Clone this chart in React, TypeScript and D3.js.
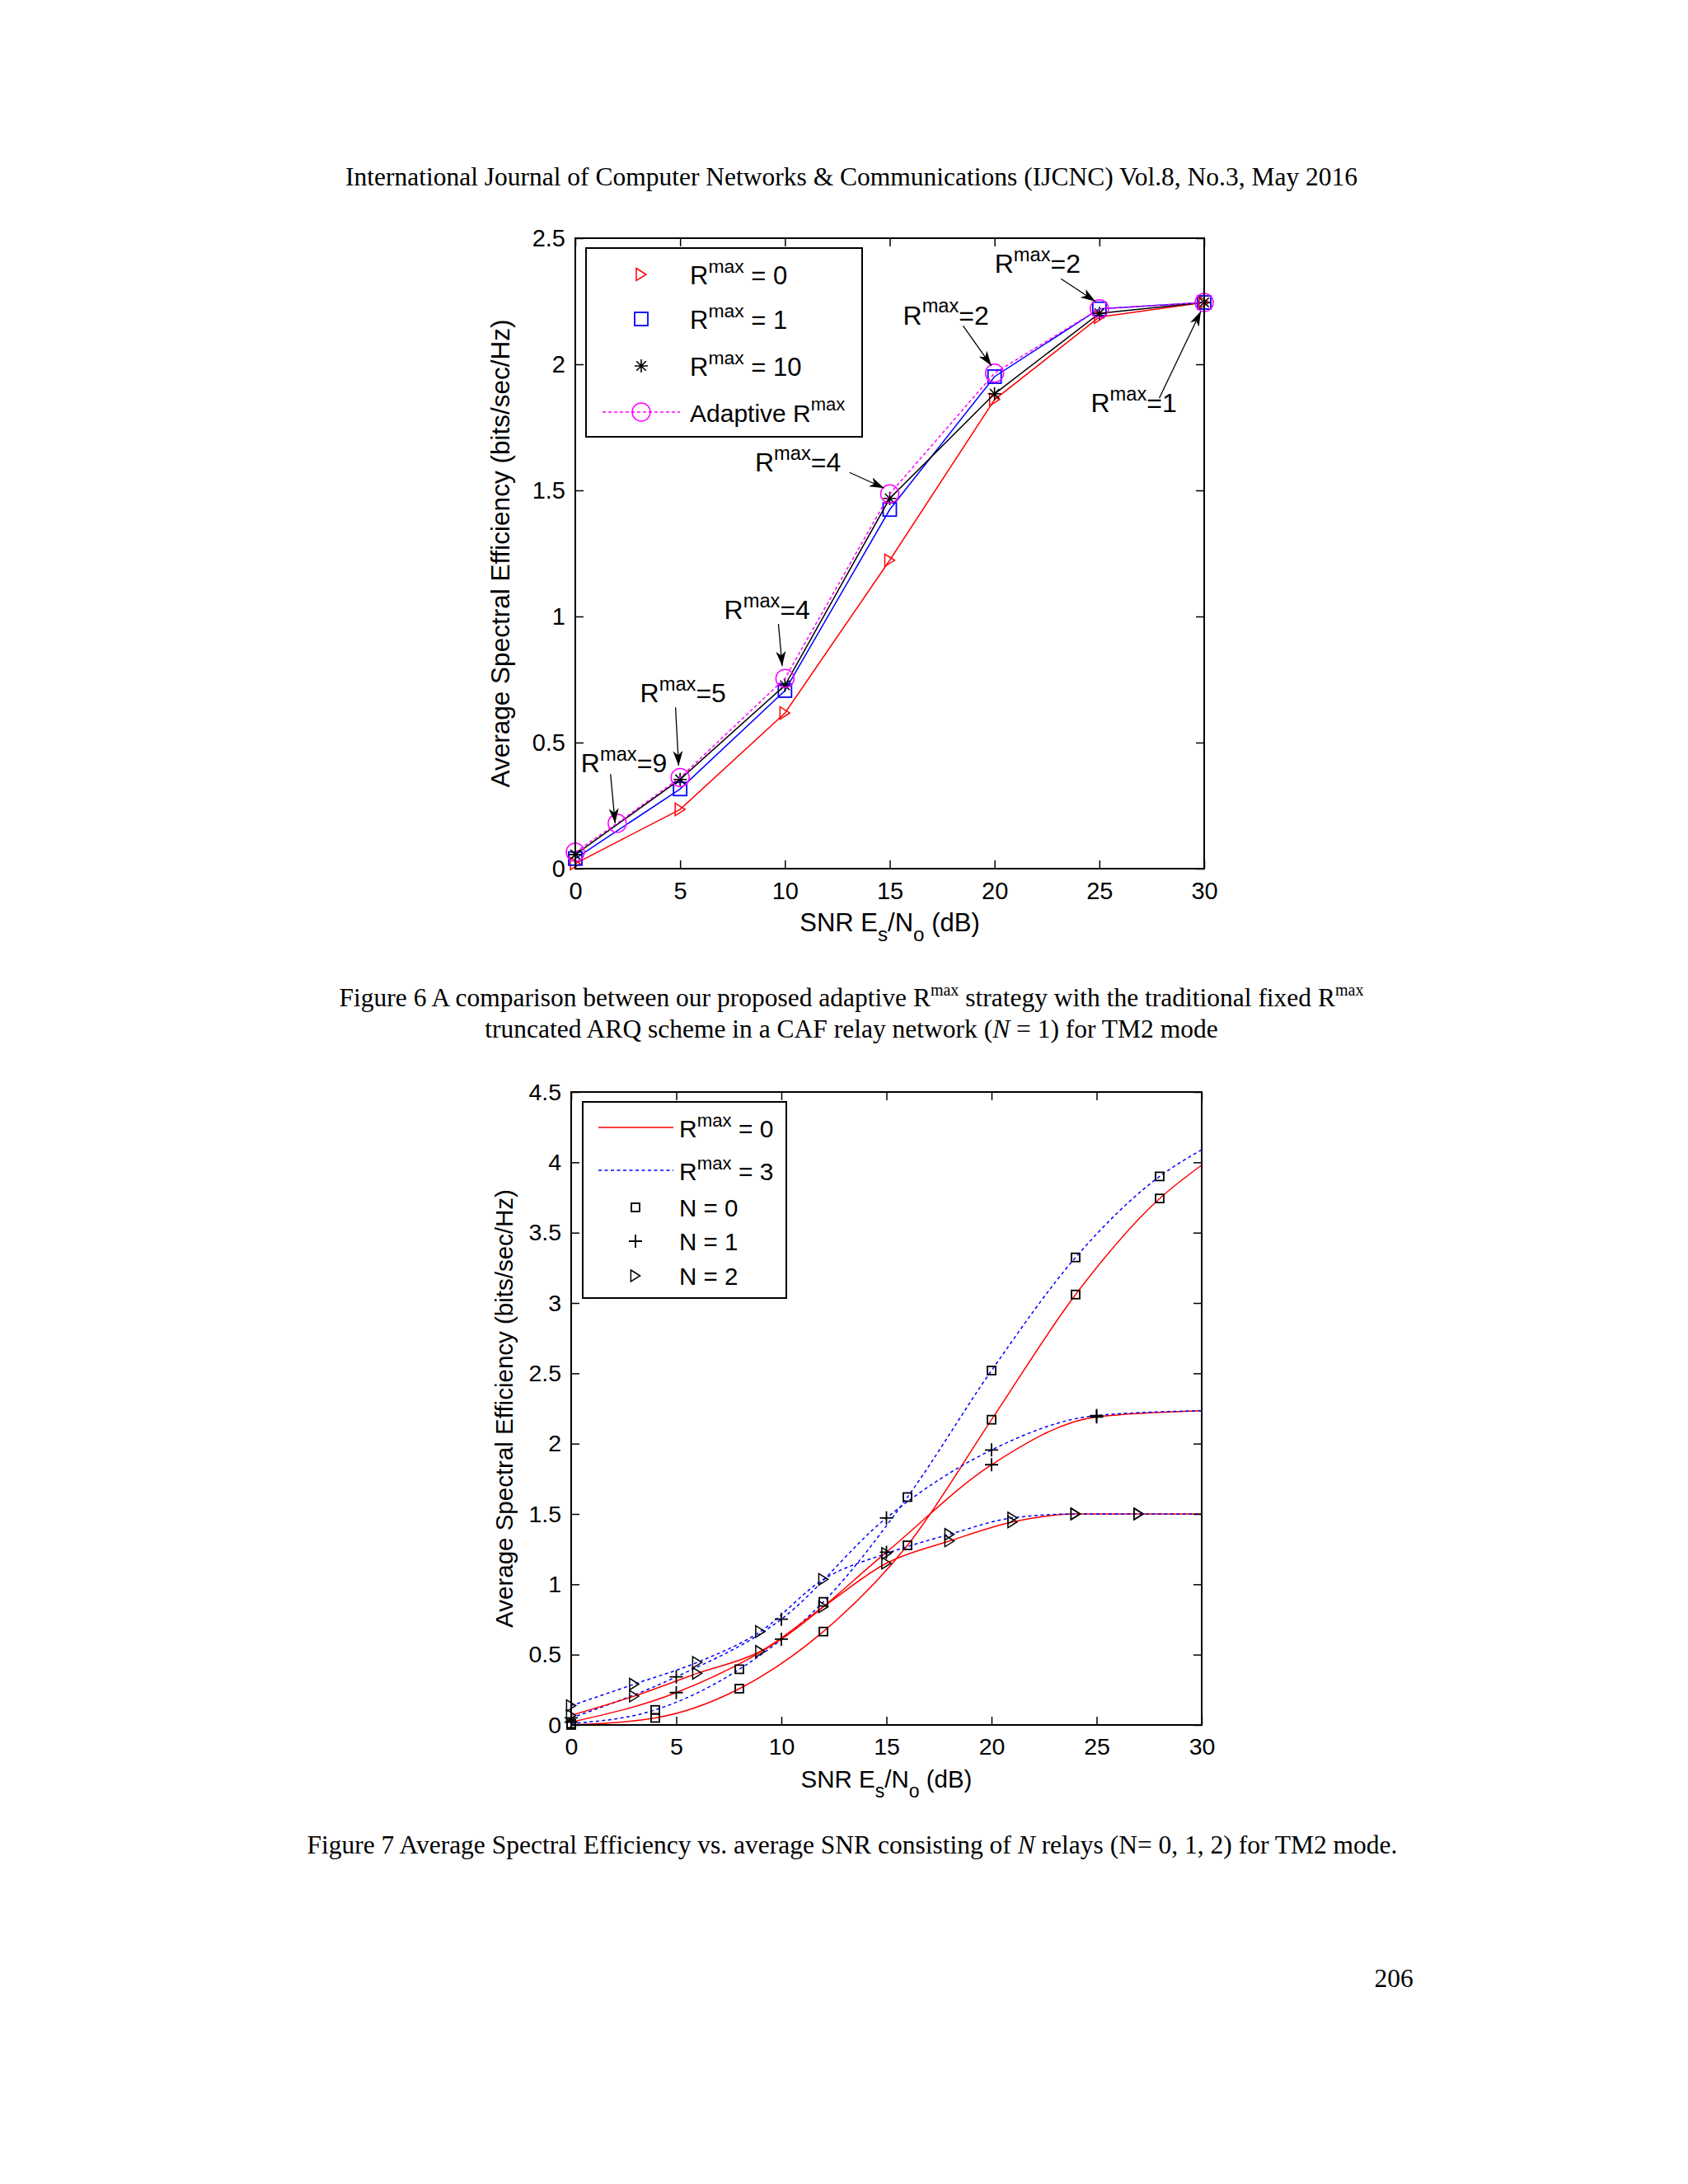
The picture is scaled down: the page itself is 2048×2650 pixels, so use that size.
import React, { useEffect, useRef } from 'react';
import * as d3 from 'd3';

// ---- Figure 6: fixed vs adaptive Rmax (N = 1) ----
const fig6Snr = [0, 5, 10, 15, 20, 25, 30];
const fig6Rmax0 = [0.02, 0.235, 0.617, 1.223, 1.86, 2.187, 2.245];
const fig6Rmax1 = [0.04, 0.316, 0.706, 1.424, 1.951, 2.22, 2.245];
const fig6Rmax10 = [0.056, 0.354, 0.727, 1.468, 1.883, 2.202, 2.245];
const fig6AdaptiveSnr = [0, 2, 5, 10, 15, 20, 25, 30];
const fig6Adaptive = [0.065, 0.18, 0.361, 0.754, 1.486, 1.965, 2.22, 2.245];
const fig6XTicks = [0, 5, 10, 15, 20, 25, 30];
const fig6YTicks = [0, 0.5, 1, 1.5, 2, 2.5];

// "Rmax=n" notes: text anchor and arrow start/end, in data units
const noteValues = ['9', '5', '4', '4', '2', '2', '1'];
const noteTextX = [0.27, 3.09, 7.1, 8.57, 15.63, 20.0, 24.59];
const noteTextY = [0.381, 0.66, 0.99, 1.574, 2.158, 2.362, 1.81];
const noteFromX = [1.68, 4.78, 9.69, 13.08, 18.5, 23.17, 27.86];
const noteFromY = [0.375, 0.64, 0.97, 1.571, 2.152, 2.339, 1.866];
const noteToX = [1.9, 4.93, 9.87, 14.73, 19.85, 24.81, 29.84];
const noteToY = [0.18, 0.408, 0.803, 1.509, 1.994, 2.249, 2.21];

// ---- Figure 7: N relays, Rmax = 0 (solid) vs Rmax = 3 (dotted) ----
const snrN0 = [0, 4, 8, 12, 16, 20, 24, 28, 30];
const n0Rmax0 = [0, 0.05, 0.258, 0.664, 1.277, 2.17, 3.06, 3.743, 3.98];
const n0Rmax3 = [0.01, 0.107, 0.396, 0.875, 1.62, 2.52, 3.324, 3.9, 4.09];
const snrN1 = [0, 5, 10, 15, 20, 25, 30];
const n1Rmax0 = [0.02, 0.23, 0.61, 1.228, 1.85, 2.19, 2.234];
const n1Rmax3 = [0.05, 0.342, 0.752, 1.472, 1.955, 2.2, 2.234];
const snrN2 = [0, 3, 6, 9, 12, 15, 18, 21, 24, 27, 30];
const n2Rmax0 = [0.068, 0.205, 0.367, 0.523, 0.84, 1.15, 1.308, 1.443, 1.5, 1.5, 1.5];
const n2Rmax3 = [0.137, 0.29, 0.445, 0.664, 1.035, 1.219, 1.355, 1.472, 1.5, 1.5, 1.5];
const fig7XTicks = [0, 5, 10, 15, 20, 25, 30];
const fig7YTicks = [0, 0.5, 1, 1.5, 2, 2.5, 3, 3.5, 4, 4.5];

const W = 2048;
const H = 2650;
const SANS = '"Liberation Sans", Arial, sans-serif';
const SERIF = '"Liberation Serif", "Times New Roman", serif';

// marker shapes
const triPath = (cx, cy, w, h) =>
  `M${cx - w / 2},${cy - h / 2}L${cx + w / 2},${cy}L${cx - w / 2},${cy + h / 2}Z`;
const starPath = (cx, cy, r) => {
  const d = r * 0.72;
  return `M${cx - r},${cy}L${cx + r},${cy}M${cx},${cy - r}L${cx},${cy + r}` +
    `M${cx - d},${cy - d}L${cx + d},${cy + d}M${cx - d},${cy + d}L${cx + d},${cy - d}`;
};
const plusPath = (cx, cy, r) => `M${cx - r},${cy}L${cx + r},${cy}M${cx},${cy - r}L${cx},${cy + r}`;

function drawMarker(g, kind, cx, cy, color, size) {
  if (kind === 'tri') {
    g.append('path').attr('d', triPath(cx, cy, size * 0.8, size)).attr('fill', 'none').attr('stroke', color).attr('stroke-width', 1.5);
  } else if (kind === 'square') {
    g.append('rect').attr('x', cx - size / 2).attr('y', cy - size / 2).attr('width', size).attr('height', size)
      .attr('fill', 'none').attr('stroke', color).attr('stroke-width', 1.8);
  } else if (kind === 'star') {
    g.append('path').attr('d', starPath(cx, cy, size / 2)).attr('stroke', color).attr('stroke-width', 1.6).attr('fill', 'none');
  } else if (kind === 'plus') {
    g.append('path').attr('d', plusPath(cx, cy, size / 2)).attr('stroke', color).attr('stroke-width', 1.8).attr('fill', 'none');
  } else if (kind === 'circle') {
    g.append('circle').attr('cx', cx).attr('cy', cy).attr('r', size / 2).attr('fill', 'none').attr('stroke', color).attr('stroke-width', 1.5);
  }
}

// "R^max" + suffix
function rmaxText(g, x, y, suffix, fs) {
  const t = g.append('text').attr('x', x).attr('y', y).attr('font-size', fs)
    .attr('font-family', SANS).attr('fill', '#000');
  t.append('tspan').text('R');
  t.append('tspan').attr('font-size', fs * 0.74).attr('dy', -fs * 0.45).text('max');
  t.append('tspan').attr('dy', fs * 0.45).text(suffix);
  return t;
}

function frame(g, x, y, xTicks, yTicks, fs) {
  const [x0, x1] = x.range();
  const [y0, y1] = y.range();
  g.append('g').attr('transform', `translate(0,${y0})`)
    .call(d3.axisBottom(x).tickValues(xTicks).tickSize(-10).tickPadding(16).tickFormat((d) => String(d)));
  g.append('g').attr('transform', `translate(0,${y1})`)
    .call(d3.axisTop(x).tickValues(xTicks).tickSize(-10).tickFormat(() => ''));
  g.append('g').attr('transform', `translate(${x0},0)`)
    .call(d3.axisLeft(y).tickValues(yTicks).tickSize(-10).tickPadding(12).tickFormat((d) => String(d)));
  g.append('g').attr('transform', `translate(${x1},0)`)
    .call(d3.axisRight(y).tickValues(yTicks).tickSize(-10).tickFormat(() => ''));
  g.selectAll('.domain').remove();
  g.selectAll('.tick line').attr('stroke', '#000').attr('stroke-width', 1.5);
  g.selectAll('.tick text').attr('font-size', fs).attr('font-family', SANS).attr('fill', '#000');
  g.append('rect').attr('x', x0).attr('y', y1).attr('width', x1 - x0).attr('height', y0 - y1)
    .attr('fill', 'none').attr('stroke', '#000').attr('stroke-width', 2);
}

function axisLabels(g, x, y, fs, yfs, yOffset) {
  const [x0, x1] = x.range();
  const [y0, y1] = y.range();
  const sub = fs * 0.78;
  const xl = g.append('text').attr('x', (x0 + x1) / 2).attr('y', y0 + 76).attr('text-anchor', 'middle')
    .attr('font-size', fs).attr('font-family', SANS).attr('fill', '#000');
  xl.append('tspan').text('SNR E');
  xl.append('tspan').attr('font-size', sub).attr('dy', 12).text('s');
  xl.append('tspan').attr('dy', -12).text('/N');
  xl.append('tspan').attr('font-size', sub).attr('dy', 12).text('o');
  xl.append('tspan').attr('dy', -12).text(' (dB)');
  g.append('text').attr('transform', `translate(${x0 - yOffset},${(y0 + y1) / 2}) rotate(-90)`)
    .attr('text-anchor', 'middle').attr('font-size', yfs).attr('font-family', SANS).attr('fill', '#000')
    .text('Average Spectral Efficiency (bits/sec/Hz)');
}

function drawFig6(g) {
  const x = d3.scaleLinear().domain([0, 30]).range([698, 1461]);
  const y = d3.scaleLinear().domain([0, 2.5]).range([1054, 289]);

  const series = [
    { xs: fig6Snr, ys: fig6Rmax0, color: '#ff0000', marker: 'tri', size: 15, dash: null },
    { xs: fig6Snr, ys: fig6Rmax1, color: '#0000ff', marker: 'square', size: 16, dash: null },
    { xs: fig6Snr, ys: fig6Rmax10, color: '#000000', marker: 'star', size: 16, dash: null },
    { xs: fig6AdaptiveSnr, ys: fig6Adaptive, color: '#ff00ff', marker: 'circle', size: 22, dash: '4,3' },
  ];
  const line = d3.line().x((d) => x(d[0])).y((d) => y(d[1]));

  series.forEach((s) => {
    const pts = s.xs.map((v, i) => [v, s.ys[i]]);
    g.append('path').attr('d', line(pts)).attr('fill', 'none').attr('stroke', s.color)
      .attr('stroke-width', 1.5).attr('stroke-dasharray', s.dash);
    pts.forEach((p) => drawMarker(g, s.marker, x(p[0]), y(p[1]), s.color, s.size));
  });

  frame(g, x, y, fig6XTicks, fig6YTicks, 29);
  axisLabels(g, x, y, 31, 31.5, 80);

  // arrows + notes
  const defs = g.append('defs');
  defs.append('marker').attr('id', 'arrowhead').attr('viewBox', '0 0 18 12').attr('refX', 18).attr('refY', 6)
    .attr('markerWidth', 18).attr('markerHeight', 12).attr('markerUnits', 'userSpaceOnUse').attr('orient', 'auto')
    .append('path').attr('d', 'M0,0L18,6L0,12L5,6Z').attr('fill', '#000');
  noteValues.forEach((v, i) => {
    g.append('line').attr('x1', x(noteFromX[i])).attr('y1', y(noteFromY[i]))
      .attr('x2', x(noteToX[i])).attr('y2', y(noteToY[i]))
      .attr('stroke', '#000').attr('stroke-width', 1.3).attr('marker-end', 'url(#arrowhead)');
    rmaxText(g, x(noteTextX[i]), y(noteTextY[i]), '=' + v, 32);
  });

  // legend
  const lx = 711;
  const ly = 301;
  const lg = g.append('g');
  lg.append('rect').attr('x', lx).attr('y', ly).attr('width', 335).attr('height', 229)
    .attr('fill', '#fff').attr('stroke', '#000').attr('stroke-width', 2);
  const rows = [32, 86, 143, 199];
  const labels = [' = 0', ' = 1', ' = 10'];
  series.forEach((s, i) => {
    const cy = ly + rows[i];
    if (s.dash) {
      lg.append('line').attr('x1', lx + 20).attr('x2', lx + 114).attr('y1', cy).attr('y2', cy)
        .attr('stroke', s.color).attr('stroke-width', 1.5).attr('stroke-dasharray', s.dash);
    }
    drawMarker(lg, s.marker, lx + 67, cy, s.color, s.size);
    if (i < 3) {
      rmaxText(lg, lx + 126, cy + 12, labels[i], 31);
    } else {
      const t = lg.append('text').attr('x', lx + 126).attr('y', cy + 12).attr('font-size', 30)
        .attr('font-family', SANS).attr('fill', '#000');
      t.append('tspan').text('Adaptive R');
      t.append('tspan').attr('font-size', 22).attr('dy', -14).text('max');
    }
  });
}

function drawFig7(g) {
  const x = d3.scaleLinear().domain([0, 30]).range([693, 1458]);
  const y = d3.scaleLinear().domain([0, 4.5]).range([2093, 1325]);
  const line = d3.line().x((d) => x(d[0])).y((d) => y(d[1])).curve(d3.curveMonotoneX);

  const series = [
    { xs: snrN0, ys: n0Rmax0, color: '#ff0000', dash: null, marker: 'square', size: 10 },
    { xs: snrN0, ys: n0Rmax3, color: '#0000ff', dash: '4,3.5', marker: 'square', size: 10 },
    { xs: snrN1, ys: n1Rmax0, color: '#ff0000', dash: null, marker: 'plus', size: 16 },
    { xs: snrN1, ys: n1Rmax3, color: '#0000ff', dash: '4,3.5', marker: 'plus', size: 16 },
    { xs: snrN2, ys: n2Rmax0, color: '#ff0000', dash: null, marker: 'tri', size: 14 },
    { xs: snrN2, ys: n2Rmax3, color: '#0000ff', dash: '4,3.5', marker: 'tri', size: 14 },
  ];

  series.forEach((s) => {
    const pts = s.xs.map((v, i) => [v, s.ys[i]]);
    g.append('path').attr('d', line(pts)).attr('fill', 'none').attr('stroke', s.color)
      .attr('stroke-width', 1.5).attr('stroke-dasharray', s.dash);
  });
  series.forEach((s) => {
    s.xs.forEach((v, i) => {
      if (v < 30) drawMarker(g, s.marker, x(v), y(s.ys[i]), '#000', s.size);
    });
  });

  frame(g, x, y, fig7XTicks, fig7YTicks, 28.5);
  axisLabels(g, x, y, 29.5, 29.5, 71);

  // legend
  const lx = 707;
  const ly = 1337;
  const lg = g.append('g');
  lg.append('rect').attr('x', lx).attr('y', ly).attr('width', 247).attr('height', 238)
    .attr('fill', '#fff').attr('stroke', '#000').attr('stroke-width', 2);
  lg.append('line').attr('x1', lx + 19).attr('x2', lx + 110).attr('y1', ly + 31).attr('y2', ly + 31)
    .attr('stroke', '#ff0000').attr('stroke-width', 1.5);
  rmaxText(lg, lx + 117, ly + 43, ' = 0', 30);
  lg.append('line').attr('x1', lx + 19).attr('x2', lx + 110).attr('y1', ly + 83).attr('y2', ly + 83)
    .attr('stroke', '#0000ff').attr('stroke-width', 1.5).attr('stroke-dasharray', '4,3.5');
  rmaxText(lg, lx + 117, ly + 95, ' = 3', 30);
  const nRows = [128, 169, 211];
  const nMarkers = ['square', 'plus', 'tri'];
  const nSizes = [10, 16, 14];
  nRows.forEach((r, i) => {
    drawMarker(lg, nMarkers[i], lx + 64, ly + r, '#000', nSizes[i]);
    lg.append('text').attr('x', lx + 117).attr('y', ly + r + 11).attr('font-size', 29.5)
      .attr('font-family', SANS).attr('fill', '#000').text(`N = ${i}`);
  });
}

function pageText(svg) {
  const FS = 31.5;
  const t = (x, y) => svg.append('text').attr('x', x).attr('y', y).attr('font-size', FS)
    .attr('font-family', SERIF).attr('fill', '#000').attr('text-anchor', 'middle');

  t(1033, 225).text('International Journal of Computer Networks & Communications (IJCNC) Vol.8, No.3, May 2016');

  const c1 = t(1033, 1221);
  c1.append('tspan').text('Figure 6 A comparison between our proposed adaptive R');
  c1.append('tspan').attr('font-size', 20).attr('dy', -13).text('max');
  c1.append('tspan').attr('dy', 13).text(' strategy with the traditional fixed R');
  c1.append('tspan').attr('font-size', 20).attr('dy', -13).text('max');

  const c2 = t(1033, 1259);
  c2.append('tspan').text('truncated ARQ scheme in a CAF relay network (');
  c2.append('tspan').attr('font-style', 'italic').text('N');
  c2.append('tspan').text(' = 1) for TM2 mode');

  const c3 = t(1034, 2249);
  c3.append('tspan').text('Figure 7 Average Spectral Efficiency vs. average SNR consisting of ');
  c3.append('tspan').attr('font-style', 'italic').text('N');
  c3.append('tspan').text(' relays (N= 0, 1, 2) for TM2 mode.');

  t(1691, 2411).text('206');
}

export default function App() {
  const svgRef = useRef(null);

  useEffect(() => {
    const svg = d3.select(svgRef.current);
    svg.selectAll('*').remove();
    svg.append('rect').attr('width', W).attr('height', H).attr('fill', '#fff');
    pageText(svg);
    drawFig6(svg.append('g'));
    drawFig7(svg.append('g'));
  }, []);

  return (
    <svg
      ref={svgRef}
      width={W}
      height={H}
      style={{ position: 'absolute', left: 0, top: 0, display: 'block' }}
    />
  );
}
